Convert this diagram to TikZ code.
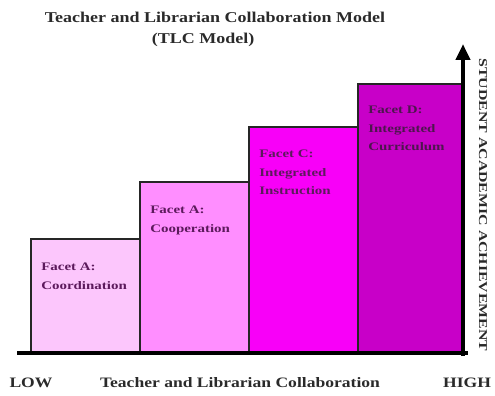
\documentclass[tikz,border=0pt]{standalone}
\usepackage{fontspec}
\setmainfont{Liberation Serif}
\usetikzlibrary{arrows.meta}
\definecolor{cA}{HTML}{FCC6FC}
\definecolor{cB}{HTML}{FF8EFF}
\definecolor{cC}{HTML}{F800F8}
\definecolor{cD}{HTML}{C800C8}
\definecolor{txt}{HTML}{5C1A5C}
\definecolor{ttl}{HTML}{2A2A2A}
\tikzset{
  stepbox/.style={draw=black!85, line width=1.6pt, anchor=south west, inner sep=0pt, minimum width=109pt},
  facet/.style={anchor=north west, align=left, text=txt, font=\fontsize{11.5}{18.5}\selectfont\bfseries, xscale=1.3, inner sep=0pt},
  ttlfont/.style={text=ttl, font=\fontsize{15}{18}\selectfont\bfseries, xscale=1.2},
  axlab/.style={text=ttl, font=\fontsize{14.4}{16}\selectfont\bfseries, xscale=1.22}
}
\begin{document}
\begin{tikzpicture}[x=1pt, y=-1pt]
\useasboundingbox (0,0) rectangle (495,396);
% steps
\node[stepbox, fill=cA, minimum height=113pt] (b1) at (30,353) {};
\node[stepbox, fill=cB, minimum height=170pt] (b2) at (139,353) {};
\node[stepbox, fill=cC, minimum height=225pt] (b3) at (248,353) {};
\node[stepbox, fill=cD, minimum width=106pt, minimum height=268pt] (b4) at (357,353) {};
% facet texts
\node[facet] (t1) at (41,263) {Facet A:\\Coordination};
\node[facet] (t2) at (150,206) {Facet A:\\Cooperation};
\node[facet] (t3) at (259,150) {Facet C:\\Integrated\\Instruction};
\node[facet, text=txt!85!black] (t4) at (368,106) {Facet D:\\Integrated\\Curriculum};
% axes
\coordinate (xl) at (17,353);
\coordinate (xr) at (468,353);
\coordinate (yb) at (463,355.5);
\coordinate (yt) at (463,44);
\draw[line width=4.5pt, black] (xl) -- (xr);
\draw[line width=4pt, black, -{Triangle[width=14pt,length=16pt]}] (yb) -- (yt);
% titles
\node[ttlfont] (title1) at (215,17) {Teacher and Librarian Collaboration Model};
\node[ttlfont] (title2) at (203,40) {(TLC Model)};
% axis labels
\node[axlab] (low) at (31,383) {LOW};
\node[axlab] (mid) at (240,383) {Teacher and Librarian Collaboration};
\node[axlab] (high) at (467,383) {HIGH};
\node[text=ttl, font=\fontsize{12}{14}\selectfont\bfseries, rotate=-90, xscale=1.32] (vert) at (483,205) {STUDENT ACADEMIC ACHIEVEMENT};
\end{tikzpicture}
\end{document}
